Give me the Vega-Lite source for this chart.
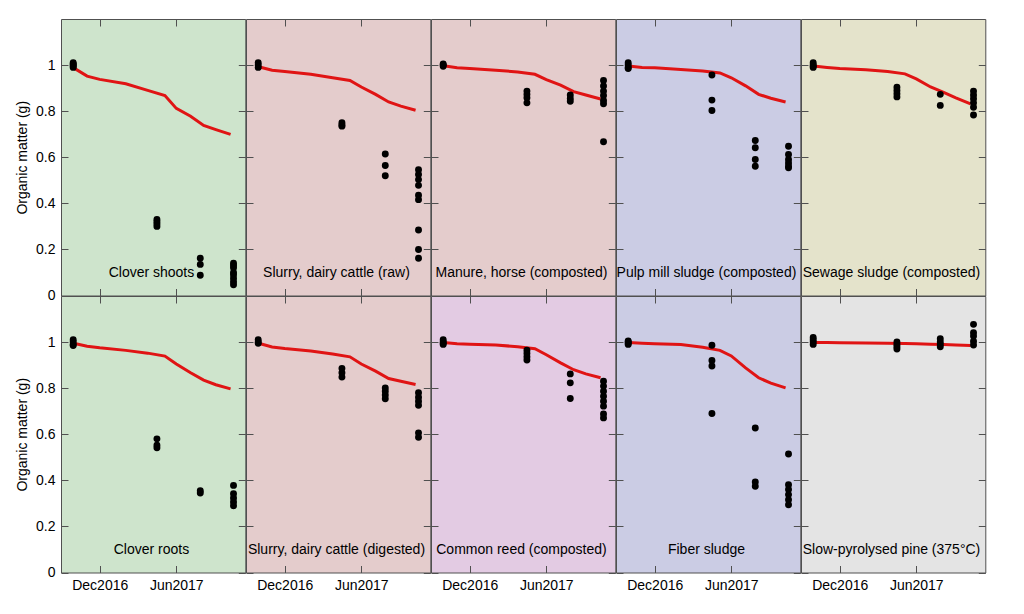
{
"$schema": "https://vega.github.io/schema/vega-lite/v6.json",
"padding": {"left": 15, "top": 18, "right": 5, "bottom": 5},
"data": {"format": {"parse": {"date": "date:'%Y-%m-%d'"}}, "values": [
{"panel":"Clover shoots","kind":"label"},
{"panel":"Slurry, dairy cattle (raw)","kind":"label"},
{"panel":"Manure, horse (composted)","kind":"label"},
{"panel":"Pulp mill sludge (composted)","kind":"label"},
{"panel":"Sewage sludge (composted)","kind":"label"},
{"panel":"Clover roots","kind":"label"},
{"panel":"Slurry, dairy cattle (digested)","kind":"label"},
{"panel":"Common reed (composted)","kind":"label"},
{"panel":"Fiber sludge","kind":"label"},
{"panel":"Slow-pyrolysed pine (375°C)","kind":"label"},

{"panel":"Clover shoots","kind":"model","date":"2016-09-30","om":0.988},
{"panel":"Clover shoots","kind":"model","date":"2016-11-01","om":0.952},
{"panel":"Clover shoots","kind":"model","date":"2016-12-01","om":0.938},
{"panel":"Clover shoots","kind":"model","date":"2017-02-01","om":0.919},
{"panel":"Clover shoots","kind":"model","date":"2017-03-25","om":0.890},
{"panel":"Clover shoots","kind":"model","date":"2017-05-05","om":0.868},
{"panel":"Clover shoots","kind":"model","date":"2017-06-01","om":0.812},
{"panel":"Clover shoots","kind":"model","date":"2017-07-05","om":0.778},
{"panel":"Clover shoots","kind":"model","date":"2017-08-05","om":0.738},
{"panel":"Clover shoots","kind":"model","date":"2017-09-03","om":0.720},
{"panel":"Clover shoots","kind":"model","date":"2017-10-08","om":0.699},

{"panel":"Slurry, dairy cattle (raw)","kind":"model","date":"2016-09-30","om":0.993},
{"panel":"Slurry, dairy cattle (raw)","kind":"model","date":"2016-11-01","om":0.978},
{"panel":"Slurry, dairy cattle (raw)","kind":"model","date":"2016-12-01","om":0.972},
{"panel":"Slurry, dairy cattle (raw)","kind":"model","date":"2017-02-01","om":0.960},
{"panel":"Slurry, dairy cattle (raw)","kind":"model","date":"2017-03-25","om":0.945},
{"panel":"Slurry, dairy cattle (raw)","kind":"model","date":"2017-05-05","om":0.933},
{"panel":"Slurry, dairy cattle (raw)","kind":"model","date":"2017-06-01","om":0.905},
{"panel":"Slurry, dairy cattle (raw)","kind":"model","date":"2017-07-05","om":0.873},
{"panel":"Slurry, dairy cattle (raw)","kind":"model","date":"2017-08-05","om":0.840},
{"panel":"Slurry, dairy cattle (raw)","kind":"model","date":"2017-09-03","om":0.822},
{"panel":"Slurry, dairy cattle (raw)","kind":"model","date":"2017-10-08","om":0.804},

{"panel":"Manure, horse (composted)","kind":"model","date":"2016-09-30","om":0.997},
{"panel":"Manure, horse (composted)","kind":"model","date":"2016-11-01","om":0.988},
{"panel":"Manure, horse (composted)","kind":"model","date":"2016-12-01","om":0.985},
{"panel":"Manure, horse (composted)","kind":"model","date":"2017-02-01","om":0.978},
{"panel":"Manure, horse (composted)","kind":"model","date":"2017-03-25","om":0.970},
{"panel":"Manure, horse (composted)","kind":"model","date":"2017-05-05","om":0.960},
{"panel":"Manure, horse (composted)","kind":"model","date":"2017-06-01","om":0.937},
{"panel":"Manure, horse (composted)","kind":"model","date":"2017-07-05","om":0.913},
{"panel":"Manure, horse (composted)","kind":"model","date":"2017-08-05","om":0.885},
{"panel":"Manure, horse (composted)","kind":"model","date":"2017-09-03","om":0.870},
{"panel":"Manure, horse (composted)","kind":"model","date":"2017-10-08","om":0.853},

{"panel":"Pulp mill sludge (composted)","kind":"model","date":"2016-09-30","om":0.996},
{"panel":"Pulp mill sludge (composted)","kind":"model","date":"2016-11-01","om":0.990},
{"panel":"Pulp mill sludge (composted)","kind":"model","date":"2016-12-01","om":0.988},
{"panel":"Pulp mill sludge (composted)","kind":"model","date":"2017-02-01","om":0.981},
{"panel":"Pulp mill sludge (composted)","kind":"model","date":"2017-03-25","om":0.974},
{"panel":"Pulp mill sludge (composted)","kind":"model","date":"2017-05-05","om":0.966},
{"panel":"Pulp mill sludge (composted)","kind":"model","date":"2017-06-01","om":0.945},
{"panel":"Pulp mill sludge (composted)","kind":"model","date":"2017-07-05","om":0.910},
{"panel":"Pulp mill sludge (composted)","kind":"model","date":"2017-08-05","om":0.873},
{"panel":"Pulp mill sludge (composted)","kind":"model","date":"2017-09-03","om":0.856},
{"panel":"Pulp mill sludge (composted)","kind":"model","date":"2017-10-08","om":0.840},

{"panel":"Sewage sludge (composted)","kind":"model","date":"2016-09-30","om":0.996},
{"panel":"Sewage sludge (composted)","kind":"model","date":"2016-11-01","om":0.990},
{"panel":"Sewage sludge (composted)","kind":"model","date":"2016-12-01","om":0.985},
{"panel":"Sewage sludge (composted)","kind":"model","date":"2017-02-01","om":0.980},
{"panel":"Sewage sludge (composted)","kind":"model","date":"2017-03-25","om":0.972},
{"panel":"Sewage sludge (composted)","kind":"model","date":"2017-05-05","om":0.962},
{"panel":"Sewage sludge (composted)","kind":"model","date":"2017-06-01","om":0.940},
{"panel":"Sewage sludge (composted)","kind":"model","date":"2017-07-05","om":0.905},
{"panel":"Sewage sludge (composted)","kind":"model","date":"2017-08-05","om":0.882},
{"panel":"Sewage sludge (composted)","kind":"model","date":"2017-09-03","om":0.858},
{"panel":"Sewage sludge (composted)","kind":"model","date":"2017-10-08","om":0.832},

{"panel":"Clover roots","kind":"model","date":"2016-09-30","om":0.995},
{"panel":"Clover roots","kind":"model","date":"2016-11-01","om":0.982},
{"panel":"Clover roots","kind":"model","date":"2016-12-01","om":0.975},
{"panel":"Clover roots","kind":"model","date":"2017-02-01","om":0.964},
{"panel":"Clover roots","kind":"model","date":"2017-03-25","om":0.952},
{"panel":"Clover roots","kind":"model","date":"2017-05-05","om":0.939},
{"panel":"Clover roots","kind":"model","date":"2017-06-01","om":0.905},
{"panel":"Clover roots","kind":"model","date":"2017-07-05","om":0.867},
{"panel":"Clover roots","kind":"model","date":"2017-08-05","om":0.835},
{"panel":"Clover roots","kind":"model","date":"2017-09-03","om":0.815},
{"panel":"Clover roots","kind":"model","date":"2017-10-08","om":0.797},

{"panel":"Slurry, dairy cattle (digested)","kind":"model","date":"2016-09-30","om":0.995},
{"panel":"Slurry, dairy cattle (digested)","kind":"model","date":"2016-11-01","om":0.979},
{"panel":"Slurry, dairy cattle (digested)","kind":"model","date":"2016-12-01","om":0.972},
{"panel":"Slurry, dairy cattle (digested)","kind":"model","date":"2017-02-01","om":0.961},
{"panel":"Slurry, dairy cattle (digested)","kind":"model","date":"2017-03-25","om":0.948},
{"panel":"Slurry, dairy cattle (digested)","kind":"model","date":"2017-05-05","om":0.936},
{"panel":"Slurry, dairy cattle (digested)","kind":"model","date":"2017-06-01","om":0.905},
{"panel":"Slurry, dairy cattle (digested)","kind":"model","date":"2017-07-05","om":0.874},
{"panel":"Slurry, dairy cattle (digested)","kind":"model","date":"2017-08-05","om":0.842},
{"panel":"Slurry, dairy cattle (digested)","kind":"model","date":"2017-09-03","om":0.830},
{"panel":"Slurry, dairy cattle (digested)","kind":"model","date":"2017-10-08","om":0.816},

{"panel":"Common reed (composted)","kind":"model","date":"2016-09-30","om":0.998},
{"panel":"Common reed (composted)","kind":"model","date":"2016-11-01","om":0.993},
{"panel":"Common reed (composted)","kind":"model","date":"2016-12-01","om":0.991},
{"panel":"Common reed (composted)","kind":"model","date":"2017-02-01","om":0.987},
{"panel":"Common reed (composted)","kind":"model","date":"2017-03-25","om":0.980},
{"panel":"Common reed (composted)","kind":"model","date":"2017-05-05","om":0.971},
{"panel":"Common reed (composted)","kind":"model","date":"2017-06-01","om":0.945},
{"panel":"Common reed (composted)","kind":"model","date":"2017-07-05","om":0.910},
{"panel":"Common reed (composted)","kind":"model","date":"2017-08-05","om":0.880},
{"panel":"Common reed (composted)","kind":"model","date":"2017-09-03","om":0.862},
{"panel":"Common reed (composted)","kind":"model","date":"2017-10-08","om":0.845},

{"panel":"Fiber sludge","kind":"model","date":"2016-09-30","om":0.998},
{"panel":"Fiber sludge","kind":"model","date":"2016-11-01","om":0.995},
{"panel":"Fiber sludge","kind":"model","date":"2016-12-01","om":0.993},
{"panel":"Fiber sludge","kind":"model","date":"2017-02-01","om":0.990},
{"panel":"Fiber sludge","kind":"model","date":"2017-03-25","om":0.978},
{"panel":"Fiber sludge","kind":"model","date":"2017-05-05","om":0.964},
{"panel":"Fiber sludge","kind":"model","date":"2017-06-01","om":0.940},
{"panel":"Fiber sludge","kind":"model","date":"2017-07-05","om":0.888},
{"panel":"Fiber sludge","kind":"model","date":"2017-08-05","om":0.845},
{"panel":"Fiber sludge","kind":"model","date":"2017-09-03","om":0.822},
{"panel":"Fiber sludge","kind":"model","date":"2017-10-08","om":0.801},

{"panel":"Slow-pyrolysed pine (375°C)","kind":"model","date":"2016-09-30","om":0.998},
{"panel":"Slow-pyrolysed pine (375°C)","kind":"model","date":"2016-11-01","om":0.998},
{"panel":"Slow-pyrolysed pine (375°C)","kind":"model","date":"2016-12-01","om":0.997},
{"panel":"Slow-pyrolysed pine (375°C)","kind":"model","date":"2017-02-01","om":0.996},
{"panel":"Slow-pyrolysed pine (375°C)","kind":"model","date":"2017-03-25","om":0.995},
{"panel":"Slow-pyrolysed pine (375°C)","kind":"model","date":"2017-05-05","om":0.994},
{"panel":"Slow-pyrolysed pine (375°C)","kind":"model","date":"2017-06-01","om":0.993},
{"panel":"Slow-pyrolysed pine (375°C)","kind":"model","date":"2017-07-05","om":0.991},
{"panel":"Slow-pyrolysed pine (375°C)","kind":"model","date":"2017-08-05","om":0.989},
{"panel":"Slow-pyrolysed pine (375°C)","kind":"model","date":"2017-09-03","om":0.987},
{"panel":"Slow-pyrolysed pine (375°C)","kind":"model","date":"2017-10-08","om":0.985},

{"panel":"Clover shoots","kind":"obs","date":"2016-09-29","om":1.01},
{"panel":"Clover shoots","kind":"obs","date":"2016-09-29","om":1.005},
{"panel":"Clover shoots","kind":"obs","date":"2016-09-29","om":1.0},
{"panel":"Clover shoots","kind":"obs","date":"2016-09-29","om":0.995},
{"panel":"Clover shoots","kind":"obs","date":"2016-09-29","om":0.99},
{"panel":"Clover shoots","kind":"obs","date":"2017-04-16","om":0.33},
{"panel":"Clover shoots","kind":"obs","date":"2017-04-16","om":0.32},
{"panel":"Clover shoots","kind":"obs","date":"2017-04-16","om":0.31},
{"panel":"Clover shoots","kind":"obs","date":"2017-04-16","om":0.30},
{"panel":"Clover shoots","kind":"obs","date":"2017-07-28","om":0.162},
{"panel":"Clover shoots","kind":"obs","date":"2017-07-28","om":0.135},
{"panel":"Clover shoots","kind":"obs","date":"2017-07-28","om":0.088},
{"panel":"Clover shoots","kind":"obs","date":"2017-10-15","om":0.14},
{"panel":"Clover shoots","kind":"obs","date":"2017-10-15","om":0.13},
{"panel":"Clover shoots","kind":"obs","date":"2017-10-15","om":0.12},
{"panel":"Clover shoots","kind":"obs","date":"2017-10-15","om":0.10},
{"panel":"Clover shoots","kind":"obs","date":"2017-10-15","om":0.09},
{"panel":"Clover shoots","kind":"obs","date":"2017-10-15","om":0.075},
{"panel":"Clover shoots","kind":"obs","date":"2017-10-15","om":0.06},
{"panel":"Clover shoots","kind":"obs","date":"2017-10-15","om":0.047},

{"panel":"Slurry, dairy cattle (raw)","kind":"obs","date":"2016-09-29","om":1.01},
{"panel":"Slurry, dairy cattle (raw)","kind":"obs","date":"2016-09-29","om":1.0},
{"panel":"Slurry, dairy cattle (raw)","kind":"obs","date":"2016-09-29","om":0.99},
{"panel":"Slurry, dairy cattle (raw)","kind":"obs","date":"2017-04-16","om":0.75},
{"panel":"Slurry, dairy cattle (raw)","kind":"obs","date":"2017-04-16","om":0.74},
{"panel":"Slurry, dairy cattle (raw)","kind":"obs","date":"2017-04-16","om":0.735},
{"panel":"Slurry, dairy cattle (raw)","kind":"obs","date":"2017-07-28","om":0.614},
{"panel":"Slurry, dairy cattle (raw)","kind":"obs","date":"2017-07-28","om":0.564},
{"panel":"Slurry, dairy cattle (raw)","kind":"obs","date":"2017-07-28","om":0.520},
{"panel":"Slurry, dairy cattle (raw)","kind":"obs","date":"2017-10-15","om":0.546},
{"panel":"Slurry, dairy cattle (raw)","kind":"obs","date":"2017-10-15","om":0.525},
{"panel":"Slurry, dairy cattle (raw)","kind":"obs","date":"2017-10-15","om":0.503},
{"panel":"Slurry, dairy cattle (raw)","kind":"obs","date":"2017-10-15","om":0.478},
{"panel":"Slurry, dairy cattle (raw)","kind":"obs","date":"2017-10-15","om":0.435},
{"panel":"Slurry, dairy cattle (raw)","kind":"obs","date":"2017-10-15","om":0.416},
{"panel":"Slurry, dairy cattle (raw)","kind":"obs","date":"2017-10-15","om":0.284},
{"panel":"Slurry, dairy cattle (raw)","kind":"obs","date":"2017-10-15","om":0.200},
{"panel":"Slurry, dairy cattle (raw)","kind":"obs","date":"2017-10-15","om":0.162},

{"panel":"Manure, horse (composted)","kind":"obs","date":"2016-09-29","om":1.005},
{"panel":"Manure, horse (composted)","kind":"obs","date":"2016-09-29","om":1.0},
{"panel":"Manure, horse (composted)","kind":"obs","date":"2016-09-29","om":0.995},
{"panel":"Manure, horse (composted)","kind":"obs","date":"2017-04-16","om":0.887},
{"panel":"Manure, horse (composted)","kind":"obs","date":"2017-04-16","om":0.873},
{"panel":"Manure, horse (composted)","kind":"obs","date":"2017-04-16","om":0.858},
{"panel":"Manure, horse (composted)","kind":"obs","date":"2017-04-16","om":0.836},
{"panel":"Manure, horse (composted)","kind":"obs","date":"2017-07-28","om":0.870},
{"panel":"Manure, horse (composted)","kind":"obs","date":"2017-07-28","om":0.855},
{"panel":"Manure, horse (composted)","kind":"obs","date":"2017-07-28","om":0.843},
{"panel":"Manure, horse (composted)","kind":"obs","date":"2017-10-15","om":0.933},
{"panel":"Manure, horse (composted)","kind":"obs","date":"2017-10-15","om":0.909},
{"panel":"Manure, horse (composted)","kind":"obs","date":"2017-10-15","om":0.887},
{"panel":"Manure, horse (composted)","kind":"obs","date":"2017-10-15","om":0.868},
{"panel":"Manure, horse (composted)","kind":"obs","date":"2017-10-15","om":0.846},
{"panel":"Manure, horse (composted)","kind":"obs","date":"2017-10-15","om":0.832},
{"panel":"Manure, horse (composted)","kind":"obs","date":"2017-10-15","om":0.667},

{"panel":"Pulp mill sludge (composted)","kind":"obs","date":"2016-09-29","om":1.01},
{"panel":"Pulp mill sludge (composted)","kind":"obs","date":"2016-09-29","om":1.0},
{"panel":"Pulp mill sludge (composted)","kind":"obs","date":"2016-09-29","om":0.99},
{"panel":"Pulp mill sludge (composted)","kind":"obs","date":"2016-09-29","om":0.985},
{"panel":"Pulp mill sludge (composted)","kind":"obs","date":"2017-04-16","om":0.957},
{"panel":"Pulp mill sludge (composted)","kind":"obs","date":"2017-04-16","om":0.848},
{"panel":"Pulp mill sludge (composted)","kind":"obs","date":"2017-04-16","om":0.803},
{"panel":"Pulp mill sludge (composted)","kind":"obs","date":"2017-07-28","om":0.673},
{"panel":"Pulp mill sludge (composted)","kind":"obs","date":"2017-07-28","om":0.641},
{"panel":"Pulp mill sludge (composted)","kind":"obs","date":"2017-07-28","om":0.590},
{"panel":"Pulp mill sludge (composted)","kind":"obs","date":"2017-07-28","om":0.561},
{"panel":"Pulp mill sludge (composted)","kind":"obs","date":"2017-10-15","om":0.648},
{"panel":"Pulp mill sludge (composted)","kind":"obs","date":"2017-10-15","om":0.612},
{"panel":"Pulp mill sludge (composted)","kind":"obs","date":"2017-10-15","om":0.590},
{"panel":"Pulp mill sludge (composted)","kind":"obs","date":"2017-10-15","om":0.575},
{"panel":"Pulp mill sludge (composted)","kind":"obs","date":"2017-10-15","om":0.561},
{"panel":"Pulp mill sludge (composted)","kind":"obs","date":"2017-10-15","om":0.554},

{"panel":"Sewage sludge (composted)","kind":"obs","date":"2016-09-29","om":1.01},
{"panel":"Sewage sludge (composted)","kind":"obs","date":"2016-09-29","om":1.0},
{"panel":"Sewage sludge (composted)","kind":"obs","date":"2016-09-29","om":0.995},
{"panel":"Sewage sludge (composted)","kind":"obs","date":"2016-09-29","om":0.99},
{"panel":"Sewage sludge (composted)","kind":"obs","date":"2017-04-16","om":0.904},
{"panel":"Sewage sludge (composted)","kind":"obs","date":"2017-04-16","om":0.890},
{"panel":"Sewage sludge (composted)","kind":"obs","date":"2017-04-16","om":0.876},
{"panel":"Sewage sludge (composted)","kind":"obs","date":"2017-04-16","om":0.862},
{"panel":"Sewage sludge (composted)","kind":"obs","date":"2017-07-28","om":0.873},
{"panel":"Sewage sludge (composted)","kind":"obs","date":"2017-07-28","om":0.825},
{"panel":"Sewage sludge (composted)","kind":"obs","date":"2017-10-15","om":0.887},
{"panel":"Sewage sludge (composted)","kind":"obs","date":"2017-10-15","om":0.870},
{"panel":"Sewage sludge (composted)","kind":"obs","date":"2017-10-15","om":0.854},
{"panel":"Sewage sludge (composted)","kind":"obs","date":"2017-10-15","om":0.836},
{"panel":"Sewage sludge (composted)","kind":"obs","date":"2017-10-15","om":0.817},
{"panel":"Sewage sludge (composted)","kind":"obs","date":"2017-10-15","om":0.783},

{"panel":"Clover roots","kind":"obs","date":"2016-09-29","om":1.01},
{"panel":"Clover roots","kind":"obs","date":"2016-09-29","om":1.0},
{"panel":"Clover roots","kind":"obs","date":"2016-09-29","om":0.99},
{"panel":"Clover roots","kind":"obs","date":"2016-09-29","om":0.985},
{"panel":"Clover roots","kind":"obs","date":"2017-04-16","om":0.580},
{"panel":"Clover roots","kind":"obs","date":"2017-04-16","om":0.552},
{"panel":"Clover roots","kind":"obs","date":"2017-04-16","om":0.541},
{"panel":"Clover roots","kind":"obs","date":"2017-07-28","om":0.355},
{"panel":"Clover roots","kind":"obs","date":"2017-07-28","om":0.345},
{"panel":"Clover roots","kind":"obs","date":"2017-10-15","om":0.378},
{"panel":"Clover roots","kind":"obs","date":"2017-10-15","om":0.342},
{"panel":"Clover roots","kind":"obs","date":"2017-10-15","om":0.323},
{"panel":"Clover roots","kind":"obs","date":"2017-10-15","om":0.306},
{"panel":"Clover roots","kind":"obs","date":"2017-10-15","om":0.290},

{"panel":"Slurry, dairy cattle (digested)","kind":"obs","date":"2016-09-29","om":1.01},
{"panel":"Slurry, dairy cattle (digested)","kind":"obs","date":"2016-09-29","om":1.0},
{"panel":"Slurry, dairy cattle (digested)","kind":"obs","date":"2016-09-29","om":0.995},
{"panel":"Slurry, dairy cattle (digested)","kind":"obs","date":"2017-04-16","om":0.886},
{"panel":"Slurry, dairy cattle (digested)","kind":"obs","date":"2017-04-16","om":0.867},
{"panel":"Slurry, dairy cattle (digested)","kind":"obs","date":"2017-04-16","om":0.848},
{"panel":"Slurry, dairy cattle (digested)","kind":"obs","date":"2017-07-28","om":0.801},
{"panel":"Slurry, dairy cattle (digested)","kind":"obs","date":"2017-07-28","om":0.787},
{"panel":"Slurry, dairy cattle (digested)","kind":"obs","date":"2017-07-28","om":0.770},
{"panel":"Slurry, dairy cattle (digested)","kind":"obs","date":"2017-07-28","om":0.754},
{"panel":"Slurry, dairy cattle (digested)","kind":"obs","date":"2017-10-15","om":0.780},
{"panel":"Slurry, dairy cattle (digested)","kind":"obs","date":"2017-10-15","om":0.761},
{"panel":"Slurry, dairy cattle (digested)","kind":"obs","date":"2017-10-15","om":0.743},
{"panel":"Slurry, dairy cattle (digested)","kind":"obs","date":"2017-10-15","om":0.726},
{"panel":"Slurry, dairy cattle (digested)","kind":"obs","date":"2017-10-15","om":0.606},
{"panel":"Slurry, dairy cattle (digested)","kind":"obs","date":"2017-10-15","om":0.587},

{"panel":"Common reed (composted)","kind":"obs","date":"2016-09-29","om":1.01},
{"panel":"Common reed (composted)","kind":"obs","date":"2016-09-29","om":1.0},
{"panel":"Common reed (composted)","kind":"obs","date":"2016-09-29","om":0.995},
{"panel":"Common reed (composted)","kind":"obs","date":"2016-09-29","om":0.99},
{"panel":"Common reed (composted)","kind":"obs","date":"2017-04-16","om":0.965},
{"panel":"Common reed (composted)","kind":"obs","date":"2017-04-16","om":0.951},
{"panel":"Common reed (composted)","kind":"obs","date":"2017-04-16","om":0.936},
{"panel":"Common reed (composted)","kind":"obs","date":"2017-04-16","om":0.922},
{"panel":"Common reed (composted)","kind":"obs","date":"2017-07-28","om":0.862},
{"panel":"Common reed (composted)","kind":"obs","date":"2017-07-28","om":0.823},
{"panel":"Common reed (composted)","kind":"obs","date":"2017-07-28","om":0.755},
{"panel":"Common reed (composted)","kind":"obs","date":"2017-10-15","om":0.830},
{"panel":"Common reed (composted)","kind":"obs","date":"2017-10-15","om":0.809},
{"panel":"Common reed (composted)","kind":"obs","date":"2017-10-15","om":0.787},
{"panel":"Common reed (composted)","kind":"obs","date":"2017-10-15","om":0.765},
{"panel":"Common reed (composted)","kind":"obs","date":"2017-10-15","om":0.743},
{"panel":"Common reed (composted)","kind":"obs","date":"2017-10-15","om":0.722},
{"panel":"Common reed (composted)","kind":"obs","date":"2017-10-15","om":0.688},
{"panel":"Common reed (composted)","kind":"obs","date":"2017-10-15","om":0.671},

{"panel":"Fiber sludge","kind":"obs","date":"2016-09-29","om":1.005},
{"panel":"Fiber sludge","kind":"obs","date":"2016-09-29","om":1.0},
{"panel":"Fiber sludge","kind":"obs","date":"2016-09-29","om":0.995},
{"panel":"Fiber sludge","kind":"obs","date":"2016-09-29","om":0.99},
{"panel":"Fiber sludge","kind":"obs","date":"2017-04-16","om":0.986},
{"panel":"Fiber sludge","kind":"obs","date":"2017-04-16","om":0.920},
{"panel":"Fiber sludge","kind":"obs","date":"2017-04-16","om":0.896},
{"panel":"Fiber sludge","kind":"obs","date":"2017-04-16","om":0.690},
{"panel":"Fiber sludge","kind":"obs","date":"2017-07-28","om":0.627},
{"panel":"Fiber sludge","kind":"obs","date":"2017-07-28","om":0.393},
{"panel":"Fiber sludge","kind":"obs","date":"2017-07-28","om":0.374},
{"panel":"Fiber sludge","kind":"obs","date":"2017-10-15","om":0.514},
{"panel":"Fiber sludge","kind":"obs","date":"2017-10-15","om":0.381},
{"panel":"Fiber sludge","kind":"obs","date":"2017-10-15","om":0.360},
{"panel":"Fiber sludge","kind":"obs","date":"2017-10-15","om":0.338},
{"panel":"Fiber sludge","kind":"obs","date":"2017-10-15","om":0.316},
{"panel":"Fiber sludge","kind":"obs","date":"2017-10-15","om":0.294},

{"panel":"Slow-pyrolysed pine (375°C)","kind":"obs","date":"2016-09-29","om":1.02},
{"panel":"Slow-pyrolysed pine (375°C)","kind":"obs","date":"2016-09-29","om":1.01},
{"panel":"Slow-pyrolysed pine (375°C)","kind":"obs","date":"2016-09-29","om":1.0},
{"panel":"Slow-pyrolysed pine (375°C)","kind":"obs","date":"2016-09-29","om":0.99},
{"panel":"Slow-pyrolysed pine (375°C)","kind":"obs","date":"2017-04-16","om":1.0},
{"panel":"Slow-pyrolysed pine (375°C)","kind":"obs","date":"2017-04-16","om":0.99},
{"panel":"Slow-pyrolysed pine (375°C)","kind":"obs","date":"2017-04-16","om":0.98},
{"panel":"Slow-pyrolysed pine (375°C)","kind":"obs","date":"2017-04-16","om":0.97},
{"panel":"Slow-pyrolysed pine (375°C)","kind":"obs","date":"2017-07-28","om":1.015},
{"panel":"Slow-pyrolysed pine (375°C)","kind":"obs","date":"2017-07-28","om":1.0},
{"panel":"Slow-pyrolysed pine (375°C)","kind":"obs","date":"2017-07-28","om":0.99},
{"panel":"Slow-pyrolysed pine (375°C)","kind":"obs","date":"2017-07-28","om":0.98},
{"panel":"Slow-pyrolysed pine (375°C)","kind":"obs","date":"2017-10-15","om":1.077},
{"panel":"Slow-pyrolysed pine (375°C)","kind":"obs","date":"2017-10-15","om":1.041},
{"panel":"Slow-pyrolysed pine (375°C)","kind":"obs","date":"2017-10-15","om":1.026},
{"panel":"Slow-pyrolysed pine (375°C)","kind":"obs","date":"2017-10-15","om":1.004},
{"panel":"Slow-pyrolysed pine (375°C)","kind":"obs","date":"2017-10-15","om":0.987}
]},
"columns": 5,
"spacing": 0,
"bounds": "flush",
"concat": [
{"width":184.3,"height":276.5,"view":{"fill":"#cee4cc"},"transform":[{"filter":"datum.panel === 'Clover shoots'"}],"resolve":{"axis":{"x":"independent","y":"independent"}},
 "layer":[
  {"transform":[{"filter":"datum.kind === 'model'"}],"mark":{"type":"line","color":"#e01414","strokeWidth":3},
   "encoding":{"x":{"field":"date","type":"temporal","scale":{"domain":[{"year":2016,"month":8,"date":31},{"year":2017,"month":11,"date":12}],"nice":false},"axis":{"orient":"bottom","values":[{"year":2016,"month":12,"date":1},{"year":2017,"month":6,"date":1}],"labels":false,"title":null}},
    "y":{"field":"om","type":"quantitative","scale":{"domain":[0,1.2],"nice":false},"axis":{"orient":"left","values":[0,0.2,0.4,0.6,0.8,1],"format":"~g","title":"Organic matter (g)"}}}},
  {"transform":[{"filter":"datum.kind === 'obs'"}],"mark":{"type":"circle","color":"black","opacity":1,"size":48},
   "encoding":{"x":{"field":"date","type":"temporal","axis":{"orient":"top","values":[{"year":2016,"month":12,"date":1},{"year":2017,"month":6,"date":1}],"labels":false,"title":null}},
    "y":{"field":"om","type":"quantitative","axis":{"orient":"right","values":[0,0.2,0.4,0.6,0.8,1],"labels":false,"title":null}}}},
  {"transform":[{"filter":"datum.kind === 'label'"}],"mark":{"type":"text","fontSize":14,"color":"black","baseline":"middle","align":"center"},
   "encoding":{"x":{"datum":{"year":2017,"month":4,"date":3},"type":"temporal","axis":null},"y":{"datum":0.097,"type":"quantitative","axis":null},"text":{"field":"panel"}}}
 ]},
{"width":184.3,"height":276.5,"view":{"fill":"#e4cccc"},"transform":[{"filter":"datum.panel === 'Slurry, dairy cattle (raw)'"}],"resolve":{"axis":{"x":"independent","y":"independent"}},
 "layer":[
  {"transform":[{"filter":"datum.kind === 'model'"}],"mark":{"type":"line","color":"#e01414","strokeWidth":3},
   "encoding":{"x":{"field":"date","type":"temporal","scale":{"domain":[{"year":2016,"month":8,"date":31},{"year":2017,"month":11,"date":12}],"nice":false},"axis":{"orient":"bottom","values":[{"year":2016,"month":12,"date":1},{"year":2017,"month":6,"date":1}],"labels":false,"title":null}},
    "y":{"field":"om","type":"quantitative","scale":{"domain":[0,1.2],"nice":false},"axis":{"orient":"left","values":[0,0.2,0.4,0.6,0.8,1],"labels":false,"title":null}}}},
  {"transform":[{"filter":"datum.kind === 'obs'"}],"mark":{"type":"circle","color":"black","opacity":1,"size":48},
   "encoding":{"x":{"field":"date","type":"temporal","axis":{"orient":"top","values":[{"year":2016,"month":12,"date":1},{"year":2017,"month":6,"date":1}],"labels":false,"title":null}},
    "y":{"field":"om","type":"quantitative","axis":{"orient":"right","values":[0,0.2,0.4,0.6,0.8,1],"labels":false,"title":null}}}},
  {"transform":[{"filter":"datum.kind === 'label'"}],"mark":{"type":"text","fontSize":14,"color":"black","baseline":"middle","align":"center"},
   "encoding":{"x":{"datum":{"year":2017,"month":4,"date":3},"type":"temporal","axis":null},"y":{"datum":0.097,"type":"quantitative","axis":null},"text":{"field":"panel"}}}
 ]},
{"width":184.3,"height":276.5,"view":{"fill":"#e4cccc"},"transform":[{"filter":"datum.panel === 'Manure, horse (composted)'"}],"resolve":{"axis":{"x":"independent","y":"independent"}},
 "layer":[
  {"transform":[{"filter":"datum.kind === 'model'"}],"mark":{"type":"line","color":"#e01414","strokeWidth":3},
   "encoding":{"x":{"field":"date","type":"temporal","scale":{"domain":[{"year":2016,"month":8,"date":31},{"year":2017,"month":11,"date":12}],"nice":false},"axis":{"orient":"bottom","values":[{"year":2016,"month":12,"date":1},{"year":2017,"month":6,"date":1}],"labels":false,"title":null}},
    "y":{"field":"om","type":"quantitative","scale":{"domain":[0,1.2],"nice":false},"axis":{"orient":"left","values":[0,0.2,0.4,0.6,0.8,1],"labels":false,"title":null}}}},
  {"transform":[{"filter":"datum.kind === 'obs'"}],"mark":{"type":"circle","color":"black","opacity":1,"size":48},
   "encoding":{"x":{"field":"date","type":"temporal","axis":{"orient":"top","values":[{"year":2016,"month":12,"date":1},{"year":2017,"month":6,"date":1}],"labels":false,"title":null}},
    "y":{"field":"om","type":"quantitative","axis":{"orient":"right","values":[0,0.2,0.4,0.6,0.8,1],"labels":false,"title":null}}}},
  {"transform":[{"filter":"datum.kind === 'label'"}],"mark":{"type":"text","fontSize":14,"color":"black","baseline":"middle","align":"center"},
   "encoding":{"x":{"datum":{"year":2017,"month":4,"date":3},"type":"temporal","axis":null},"y":{"datum":0.097,"type":"quantitative","axis":null},"text":{"field":"panel"}}}
 ]},
{"width":184.3,"height":276.5,"view":{"fill":"#cbcce4"},"transform":[{"filter":"datum.panel === 'Pulp mill sludge (composted)'"}],"resolve":{"axis":{"x":"independent","y":"independent"}},
 "layer":[
  {"transform":[{"filter":"datum.kind === 'model'"}],"mark":{"type":"line","color":"#e01414","strokeWidth":3},
   "encoding":{"x":{"field":"date","type":"temporal","scale":{"domain":[{"year":2016,"month":8,"date":31},{"year":2017,"month":11,"date":12}],"nice":false},"axis":{"orient":"bottom","values":[{"year":2016,"month":12,"date":1},{"year":2017,"month":6,"date":1}],"labels":false,"title":null}},
    "y":{"field":"om","type":"quantitative","scale":{"domain":[0,1.2],"nice":false},"axis":{"orient":"left","values":[0,0.2,0.4,0.6,0.8,1],"labels":false,"title":null}}}},
  {"transform":[{"filter":"datum.kind === 'obs'"}],"mark":{"type":"circle","color":"black","opacity":1,"size":48},
   "encoding":{"x":{"field":"date","type":"temporal","axis":{"orient":"top","values":[{"year":2016,"month":12,"date":1},{"year":2017,"month":6,"date":1}],"labels":false,"title":null}},
    "y":{"field":"om","type":"quantitative","axis":{"orient":"right","values":[0,0.2,0.4,0.6,0.8,1],"labels":false,"title":null}}}},
  {"transform":[{"filter":"datum.kind === 'label'"}],"mark":{"type":"text","fontSize":14,"color":"black","baseline":"middle","align":"center"},
   "encoding":{"x":{"datum":{"year":2017,"month":4,"date":3},"type":"temporal","axis":null},"y":{"datum":0.097,"type":"quantitative","axis":null},"text":{"field":"panel"}}}
 ]},
{"width":184.3,"height":276.5,"view":{"fill":"#e4e3cb"},"transform":[{"filter":"datum.panel === 'Sewage sludge (composted)'"}],"resolve":{"axis":{"x":"independent","y":"independent"}},
 "layer":[
  {"transform":[{"filter":"datum.kind === 'model'"}],"mark":{"type":"line","color":"#e01414","strokeWidth":3},
   "encoding":{"x":{"field":"date","type":"temporal","scale":{"domain":[{"year":2016,"month":8,"date":31},{"year":2017,"month":11,"date":12}],"nice":false},"axis":{"orient":"bottom","values":[{"year":2016,"month":12,"date":1},{"year":2017,"month":6,"date":1}],"labels":false,"title":null}},
    "y":{"field":"om","type":"quantitative","scale":{"domain":[0,1.2],"nice":false},"axis":{"orient":"left","values":[0,0.2,0.4,0.6,0.8,1],"labels":false,"title":null}}}},
  {"transform":[{"filter":"datum.kind === 'obs'"}],"mark":{"type":"circle","color":"black","opacity":1,"size":48},
   "encoding":{"x":{"field":"date","type":"temporal","axis":{"orient":"top","values":[{"year":2016,"month":12,"date":1},{"year":2017,"month":6,"date":1}],"labels":false,"title":null}},
    "y":{"field":"om","type":"quantitative","axis":{"orient":"right","values":[0,0.2,0.4,0.6,0.8,1],"labels":false,"title":null}}}},
  {"transform":[{"filter":"datum.kind === 'label'"}],"mark":{"type":"text","fontSize":14,"color":"black","baseline":"middle","align":"center"},
   "encoding":{"x":{"datum":{"year":2017,"month":4,"date":3},"type":"temporal","axis":null},"y":{"datum":0.097,"type":"quantitative","axis":null},"text":{"field":"panel"}}}
 ]},
{"width":184.3,"height":276.5,"view":{"fill":"#cee4cc"},"transform":[{"filter":"datum.panel === 'Clover roots'"}],"resolve":{"axis":{"x":"independent","y":"independent"}},
 "layer":[
  {"transform":[{"filter":"datum.kind === 'model'"}],"mark":{"type":"line","color":"#e01414","strokeWidth":3},
   "encoding":{"x":{"field":"date","type":"temporal","scale":{"domain":[{"year":2016,"month":8,"date":31},{"year":2017,"month":11,"date":12}],"nice":false},"axis":{"orient":"bottom","values":[{"year":2016,"month":12,"date":1},{"year":2017,"month":6,"date":1}],"format":"%b%Y","title":null}},
    "y":{"field":"om","type":"quantitative","scale":{"domain":[0,1.2],"nice":false},"axis":{"orient":"left","values":[0,0.2,0.4,0.6,0.8,1],"format":"~g","title":"Organic matter (g)"}}}},
  {"transform":[{"filter":"datum.kind === 'obs'"}],"mark":{"type":"circle","color":"black","opacity":1,"size":48},
   "encoding":{"x":{"field":"date","type":"temporal","axis":{"orient":"top","values":[{"year":2016,"month":12,"date":1},{"year":2017,"month":6,"date":1}],"labels":false,"title":null}},
    "y":{"field":"om","type":"quantitative","axis":{"orient":"right","values":[0,0.2,0.4,0.6,0.8,1],"labels":false,"title":null}}}},
  {"transform":[{"filter":"datum.kind === 'label'"}],"mark":{"type":"text","fontSize":14,"color":"black","baseline":"middle","align":"center"},
   "encoding":{"x":{"datum":{"year":2017,"month":4,"date":3},"type":"temporal","axis":null},"y":{"datum":0.097,"type":"quantitative","axis":null},"text":{"field":"panel"}}}
 ]},
{"width":184.3,"height":276.5,"view":{"fill":"#e4cccc"},"transform":[{"filter":"datum.panel === 'Slurry, dairy cattle (digested)'"}],"resolve":{"axis":{"x":"independent","y":"independent"}},
 "layer":[
  {"transform":[{"filter":"datum.kind === 'model'"}],"mark":{"type":"line","color":"#e01414","strokeWidth":3},
   "encoding":{"x":{"field":"date","type":"temporal","scale":{"domain":[{"year":2016,"month":8,"date":31},{"year":2017,"month":11,"date":12}],"nice":false},"axis":{"orient":"bottom","values":[{"year":2016,"month":12,"date":1},{"year":2017,"month":6,"date":1}],"format":"%b%Y","title":null}},
    "y":{"field":"om","type":"quantitative","scale":{"domain":[0,1.2],"nice":false},"axis":{"orient":"left","values":[0,0.2,0.4,0.6,0.8,1],"labels":false,"title":null}}}},
  {"transform":[{"filter":"datum.kind === 'obs'"}],"mark":{"type":"circle","color":"black","opacity":1,"size":48},
   "encoding":{"x":{"field":"date","type":"temporal","axis":{"orient":"top","values":[{"year":2016,"month":12,"date":1},{"year":2017,"month":6,"date":1}],"labels":false,"title":null}},
    "y":{"field":"om","type":"quantitative","axis":{"orient":"right","values":[0,0.2,0.4,0.6,0.8,1],"labels":false,"title":null}}}},
  {"transform":[{"filter":"datum.kind === 'label'"}],"mark":{"type":"text","fontSize":14,"color":"black","baseline":"middle","align":"center"},
   "encoding":{"x":{"datum":{"year":2017,"month":4,"date":3},"type":"temporal","axis":null},"y":{"datum":0.097,"type":"quantitative","axis":null},"text":{"field":"panel"}}}
 ]},
{"width":184.3,"height":276.5,"view":{"fill":"#e3cbe3"},"transform":[{"filter":"datum.panel === 'Common reed (composted)'"}],"resolve":{"axis":{"x":"independent","y":"independent"}},
 "layer":[
  {"transform":[{"filter":"datum.kind === 'model'"}],"mark":{"type":"line","color":"#e01414","strokeWidth":3},
   "encoding":{"x":{"field":"date","type":"temporal","scale":{"domain":[{"year":2016,"month":8,"date":31},{"year":2017,"month":11,"date":12}],"nice":false},"axis":{"orient":"bottom","values":[{"year":2016,"month":12,"date":1},{"year":2017,"month":6,"date":1}],"format":"%b%Y","title":null}},
    "y":{"field":"om","type":"quantitative","scale":{"domain":[0,1.2],"nice":false},"axis":{"orient":"left","values":[0,0.2,0.4,0.6,0.8,1],"labels":false,"title":null}}}},
  {"transform":[{"filter":"datum.kind === 'obs'"}],"mark":{"type":"circle","color":"black","opacity":1,"size":48},
   "encoding":{"x":{"field":"date","type":"temporal","axis":{"orient":"top","values":[{"year":2016,"month":12,"date":1},{"year":2017,"month":6,"date":1}],"labels":false,"title":null}},
    "y":{"field":"om","type":"quantitative","axis":{"orient":"right","values":[0,0.2,0.4,0.6,0.8,1],"labels":false,"title":null}}}},
  {"transform":[{"filter":"datum.kind === 'label'"}],"mark":{"type":"text","fontSize":14,"color":"black","baseline":"middle","align":"center"},
   "encoding":{"x":{"datum":{"year":2017,"month":4,"date":3},"type":"temporal","axis":null},"y":{"datum":0.097,"type":"quantitative","axis":null},"text":{"field":"panel"}}}
 ]},
{"width":184.3,"height":276.5,"view":{"fill":"#cbcce4"},"transform":[{"filter":"datum.panel === 'Fiber sludge'"}],"resolve":{"axis":{"x":"independent","y":"independent"}},
 "layer":[
  {"transform":[{"filter":"datum.kind === 'model'"}],"mark":{"type":"line","color":"#e01414","strokeWidth":3},
   "encoding":{"x":{"field":"date","type":"temporal","scale":{"domain":[{"year":2016,"month":8,"date":31},{"year":2017,"month":11,"date":12}],"nice":false},"axis":{"orient":"bottom","values":[{"year":2016,"month":12,"date":1},{"year":2017,"month":6,"date":1}],"format":"%b%Y","title":null}},
    "y":{"field":"om","type":"quantitative","scale":{"domain":[0,1.2],"nice":false},"axis":{"orient":"left","values":[0,0.2,0.4,0.6,0.8,1],"labels":false,"title":null}}}},
  {"transform":[{"filter":"datum.kind === 'obs'"}],"mark":{"type":"circle","color":"black","opacity":1,"size":48},
   "encoding":{"x":{"field":"date","type":"temporal","axis":{"orient":"top","values":[{"year":2016,"month":12,"date":1},{"year":2017,"month":6,"date":1}],"labels":false,"title":null}},
    "y":{"field":"om","type":"quantitative","axis":{"orient":"right","values":[0,0.2,0.4,0.6,0.8,1],"labels":false,"title":null}}}},
  {"transform":[{"filter":"datum.kind === 'label'"}],"mark":{"type":"text","fontSize":14,"color":"black","baseline":"middle","align":"center"},
   "encoding":{"x":{"datum":{"year":2017,"month":4,"date":3},"type":"temporal","axis":null},"y":{"datum":0.097,"type":"quantitative","axis":null},"text":{"field":"panel"}}}
 ]},
{"width":184.3,"height":276.5,"view":{"fill":"#e4e4e4"},"transform":[{"filter":"datum.panel === 'Slow-pyrolysed pine (375°C)'"}],"resolve":{"axis":{"x":"independent","y":"independent"}},
 "layer":[
  {"transform":[{"filter":"datum.kind === 'model'"}],"mark":{"type":"line","color":"#e01414","strokeWidth":3},
   "encoding":{"x":{"field":"date","type":"temporal","scale":{"domain":[{"year":2016,"month":8,"date":31},{"year":2017,"month":11,"date":12}],"nice":false},"axis":{"orient":"bottom","values":[{"year":2016,"month":12,"date":1},{"year":2017,"month":6,"date":1}],"format":"%b%Y","title":null}},
    "y":{"field":"om","type":"quantitative","scale":{"domain":[0,1.2],"nice":false},"axis":{"orient":"left","values":[0,0.2,0.4,0.6,0.8,1],"labels":false,"title":null}}}},
  {"transform":[{"filter":"datum.kind === 'obs'"}],"mark":{"type":"circle","color":"black","opacity":1,"size":48},
   "encoding":{"x":{"field":"date","type":"temporal","axis":{"orient":"top","values":[{"year":2016,"month":12,"date":1},{"year":2017,"month":6,"date":1}],"labels":false,"title":null}},
    "y":{"field":"om","type":"quantitative","axis":{"orient":"right","values":[0,0.2,0.4,0.6,0.8,1],"labels":false,"title":null}}}},
  {"transform":[{"filter":"datum.kind === 'label'"}],"mark":{"type":"text","fontSize":14,"color":"black","baseline":"middle","align":"center"},
   "encoding":{"x":{"datum":{"year":2017,"month":4,"date":3},"type":"temporal","axis":null},"y":{"datum":0.097,"type":"quantitative","axis":null},"text":{"field":"panel"}}}
 ]}
],
"config": {
 "font": "Liberation Sans",
 "background": "white",
 "view": {"stroke": "#505050", "strokeWidth": 1},
 "axis": {"domain": false, "grid": false, "tickColor": "#505050", "tickSize": -7, "tickWidth": 1, "labelPadding": 13, "labelFontSize": 14, "labelColor": "black", "labelFont": "Liberation Sans", "titleFont": "Liberation Sans", "titleFontSize": 14, "titleFontWeight": "normal", "titleColor": "black", "titlePadding": 6},
 "text": {"font": "Liberation Sans"}
}
}
